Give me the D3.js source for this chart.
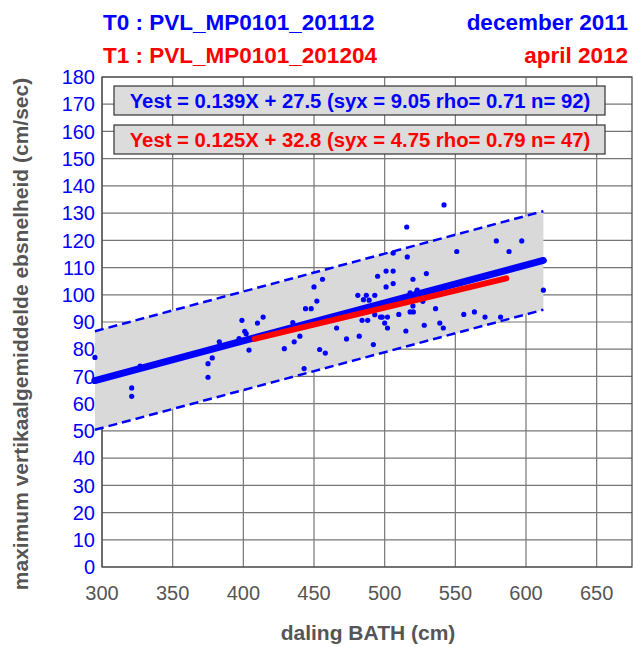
<!DOCTYPE html>
<html>
<head>
<meta charset="utf-8">
<script src="https://cdn.jsdelivr.net/npm/d3@7"></script>
<style>
  body { margin: 0; background: #fff; }
  svg text { font-family: "Liberation Sans", Arial, sans-serif; }
</style>
</head>
<body>
<div id="chart"></div>
<script>
// titles
const titleT0 = 'T0 : PVL_MP0101_201112';
const titleT1 = 'T1 : PVL_MP0101_201204';
const dateT0 = 'december 2011';
const dateT1 = 'april 2012';

// axis ticks
const xTicks = [300, 350, 400, 450, 500, 550, 600, 650];
const yTicks = d3.range(0, 181, 10);

// regression results
const fitT0 = { a: 0.139, b: 27.5, syx: 9.05, rho: 0.71, n: 92, xmin: 295, xmax: 612.3 };
const fitT1 = { a: 0.125, b: 32.8, syx: 4.75, rho: 0.79, n: 47, xmin: 408, xmax: 586 };

// measured points T0 (daling BATH, max snelheid)
const pointsX = [295, 321, 321, 327, 375, 378, 375, 383, 397, 399, 401, 402, 404, 410, 414,
  429, 436, 440, 435, 443, 444, 448, 452, 450, 456, 454, 458, 466, 473, 482,
  481, 485, 487, 489, 493, 484, 488, 492, 497, 500, 502, 502, 501, 501, 506,
  506, 506, 516, 495, 510, 515, 518, 520, 518, 520, 523, 542, 515.6, 529.5, 527,
  520.3, 536, 493, 528, 539, 541.5, 556, 563.5, 571, 582, 551, 579, 588, 597, 612.3,
  522.7, 498.3];
const pointsY = [77, 65.8, 62.7, 73.8, 74.7, 76.8, 69.7, 82.7, 83.9, 90.6, 86.6, 85.7, 79.7, 89.6, 91.8,
  80.2, 82.7, 84.8, 89.8, 72.9, 94.9, 94.9, 97.7, 102.9, 105.7, 79.9, 78.6, 87.8, 83.8, 84.8,
  99.8, 98.2, 99.8, 98, 99.8, 90.6, 90.6, 81.7, 91.8, 89.6, 91.8, 87.8, 102.9, 108.7, 108.7,
  104.1, 115.3, 113.9, 106.8, 92.8, 86.7, 93.7, 95.9, 100.7, 105.7, 101.7, 133, 124.9, 107.8, 97.6,
  93.7, 94.9, 92.7, 88.8, 89.6, 87.8, 92.8, 93.7, 91.8, 91.8, 115.9, 119.8, 115.9, 119.8, 101.7,
  101, 91.8];

const width = 634, height = 647;
const margin = { left: 102, right: 2, top: 77, bottom: 80 };

const svg = d3.select('#chart').append('svg')
    .attr('width', width)
    .attr('height', height);

const x = d3.scaleLinear().domain([300, 675]).range([margin.left, width - margin.right]);
const y = d3.scaleLinear().domain([0, 180]).range([height - margin.bottom, margin.top]);

const gridColor = '#767676';

// grid
svg.append('g').selectAll('line')
    .data(xTicks)
    .join('line')
    .attr('x1', d => x(d)).attr('x2', d => x(d))
    .attr('y1', y(0)).attr('y2', y(180))
    .attr('stroke', gridColor).attr('stroke-width', 1.2);

svg.append('g').selectAll('line')
    .data(yTicks)
    .join('line')
    .attr('x1', x(300)).attr('x2', x(675))
    .attr('y1', d => y(d)).attr('y2', d => y(d))
    .attr('stroke', gridColor).attr('stroke-width', 1.2);

// axes box
svg.append('rect')
    .attr('x', x(300)).attr('y', y(180))
    .attr('width', x(675) - x(300)).attr('height', y(0) - y(180))
    .attr('fill', 'none').attr('stroke', '#444').attr('stroke-width', 1.2);

// confidence band (+/- 2 syx)
const est = (f, v) => f.a * v + f.b;
const bandPts = [
    [fitT0.xmin, est(fitT0, fitT0.xmin) + 2 * fitT0.syx],
    [fitT0.xmax, est(fitT0, fitT0.xmax) + 2 * fitT0.syx],
    [fitT0.xmax, est(fitT0, fitT0.xmax) - 2 * fitT0.syx],
    [fitT0.xmin, est(fitT0, fitT0.xmin) - 2 * fitT0.syx]
];
svg.append('polygon')
    .attr('points', bandPts.map(p => [x(p[0]), y(p[1])].join(',')).join(' '))
    .attr('fill', '#d9d9d9');

[1, -1].forEach(s => {
    svg.append('line')
        .attr('x1', x(fitT0.xmin)).attr('y1', y(est(fitT0, fitT0.xmin) + s * 2 * fitT0.syx))
        .attr('x2', x(fitT0.xmax)).attr('y2', y(est(fitT0, fitT0.xmax) + s * 2 * fitT0.syx))
        .attr('stroke', '#0000ff').attr('stroke-width', 2.5)
        .attr('stroke-dasharray', '9,5');
});

// points
svg.append('g').selectAll('circle')
    .data(pointsX.map((v, i) => [v, pointsY[i]]))
    .join('circle')
    .attr('cx', d => x(d[0]))
    .attr('cy', d => y(d[1]))
    .attr('r', 2.6)
    .attr('fill', '#0000ff');

// regression lines
svg.append('line')
    .attr('x1', x(fitT0.xmin)).attr('y1', y(est(fitT0, fitT0.xmin)))
    .attr('x2', x(fitT0.xmax)).attr('y2', y(est(fitT0, fitT0.xmax)))
    .attr('stroke', '#0000ff').attr('stroke-width', 7).attr('stroke-linecap', 'round');

svg.append('line')
    .attr('x1', x(fitT1.xmin)).attr('y1', y(est(fitT1, fitT1.xmin)))
    .attr('x2', x(fitT1.xmax)).attr('y2', y(est(fitT1, fitT1.xmax)))
    .attr('stroke', '#ff0000').attr('stroke-width', 6).attr('stroke-linecap', 'round');

// tick labels
svg.append('g').selectAll('text')
    .data(yTicks)
    .join('text')
    .attr('x', x(300) - 7)
    .attr('y', d => y(d))
    .attr('dy', '0.36em')
    .attr('text-anchor', 'end')
    .attr('font-size', 20)
    .attr('fill', '#0000ff')
    .text(d => d);

svg.append('g').selectAll('text')
    .data(xTicks)
    .join('text')
    .attr('x', d => x(d))
    .attr('y', y(0) + 33)
    .attr('text-anchor', 'middle')
    .attr('font-size', 20)
    .attr('fill', '#555')
    .text(d => d);

// axis titles
svg.append('text')
    .attr('x', 368).attr('y', 640)
    .attr('text-anchor', 'middle')
    .attr('font-size', 21).attr('font-weight', 'bold')
    .attr('fill', '#555')
    .text('daling BATH (cm)');

svg.append('text')
    .attr('transform', 'translate(28,334) rotate(-90)')
    .attr('text-anchor', 'middle')
    .attr('font-size', 21).attr('font-weight', 'bold')
    .attr('fill', '#555')
    .text('maximum vertikaalgemiddelde ebsnelheid (cm/sec)');

// legend boxes
const legend = [
    { f: fitT0, color: '#0000ff', top: 86 },
    { f: fitT1, color: '#ff0000', top: 125 }
];
legend.forEach(l => {
    svg.append('rect')
        .attr('x', 114).attr('y', l.top)
        .attr('width', 491).attr('height', 29)
        .attr('fill', '#dcdcdc').attr('stroke', '#333').attr('stroke-width', 1.2);
    svg.append('text')
        .attr('x', 360).attr('y', l.top + 14.5)
        .attr('dy', '0.36em')
        .attr('text-anchor', 'middle')
        .attr('font-size', 20.3).attr('font-weight', 'bold')
        .attr('fill', l.color)
        .text(`Yest = ${l.f.a}X + ${l.f.b} (syx = ${l.f.syx} rho= ${l.f.rho} n= ${l.f.n})`);
});

// header
const header = [
    { left: titleT0, right: dateT0, color: '#0000ff', base: 30 },
    { left: titleT1, right: dateT1, color: '#ff0000', base: 63 }
];
header.forEach(h => {
    svg.append('text')
        .attr('x', 103).attr('y', h.base)
        .attr('font-size', 22.5).attr('font-weight', 'bold')
        .attr('fill', h.color)
        .text(h.left);
    svg.append('text')
        .attr('x', 628).attr('y', h.base)
        .attr('text-anchor', 'end')
        .attr('font-size', 22.5).attr('font-weight', 'bold')
        .attr('fill', h.color)
        .text(h.right);
});
</script>
</body>
</html>
